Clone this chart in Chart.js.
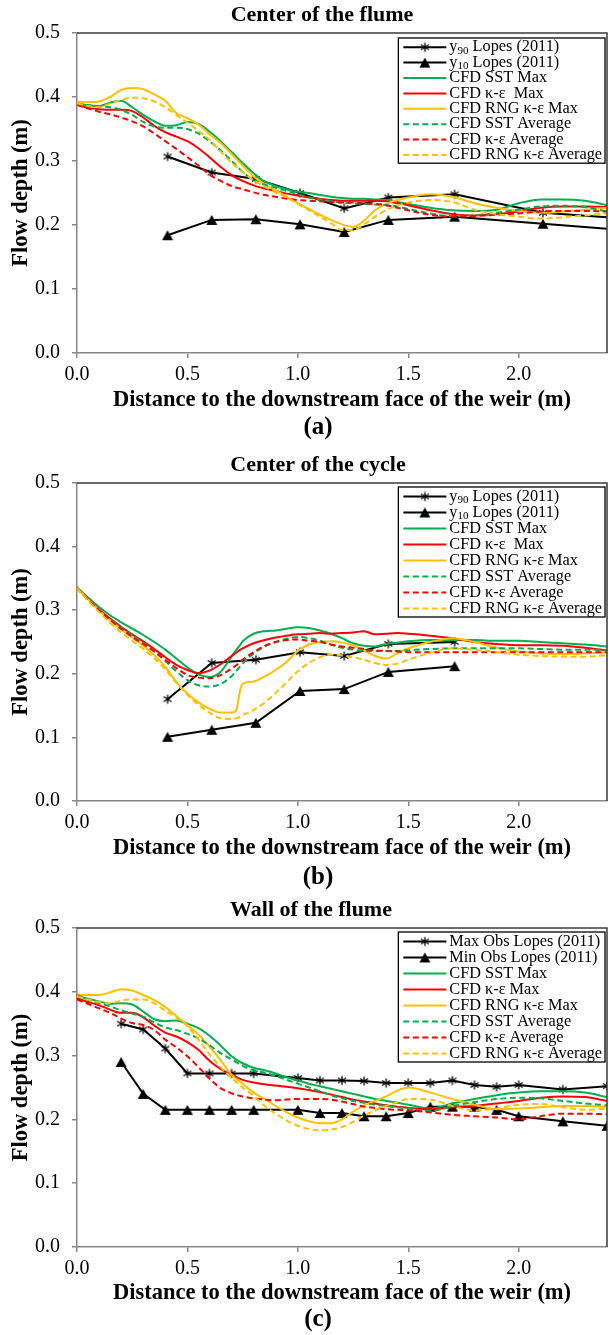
<!DOCTYPE html>
<html>
<head>
<meta charset="utf-8">
<script src="https://cdn.jsdelivr.net/npm/chart.js@4.4.0/dist/chart.umd.min.js"></script>
<style>
  html, body { margin: 0; padding: 0; background: #fff; }
  .panel { width: 609px; height: 445px; }
  canvas { display: block; }
</style>
</head>
<body>
<div class="panel"><canvas id="chartA" width="609" height="445"></canvas></div>
<div class="panel"><canvas id="chartB" width="609" height="445"></canvas></div>
<div class="panel"><canvas id="chartC" width="609" height="445"></canvas></div>
<script>
const SERIF = '"Liberation Serif", "Times New Roman", serif';
const GREEN = '#00b050', RED = '#ff0000', GOLD = '#ffc000';

// --- (a) centre of the flume ---
const xObsA = [0.41, 0.61, 0.81, 1.01, 1.21, 1.41, 1.71, 2.11, 2.71];
const y90A = [0.307, 0.282, 0.272, 0.250, 0.226, 0.243, 0.248, 0.219, 0.205];
const y10A = [0.184, 0.208, 0.209, 0.201, 0.189, 0.208, 0.213, 0.202, 0.186];

const xCfdA = [0, 0.05, 0.1, 0.15, 0.2, 0.25, 0.3, 0.35, 0.4, 0.45, 0.5, 0.55, 0.6, 0.65, 0.7, 0.75, 0.8, 0.85, 0.9, 0.95,
  1.0, 1.05, 1.1, 1.15, 1.2, 1.25, 1.3, 1.35, 1.4, 1.45, 1.5, 1.6, 1.7, 1.8, 1.9, 2.0, 2.1, 2.2, 2.3, 2.4];
const sstMaxA = [0.390, 0.387, 0.386, 0.391, 0.394, 0.384, 0.372, 0.362, 0.355, 0.356, 0.361, 0.358, 0.346, 0.331, 0.314, 0.297, 0.281, 0.268, 0.261, 0.256,
  0.252, 0.250, 0.247, 0.244, 0.242, 0.241, 0.241, 0.240, 0.239, 0.236, 0.233, 0.227, 0.223, 0.222, 0.224, 0.234, 0.240, 0.240, 0.238, 0.231];
const keMaxA = [0.388, 0.383, 0.381, 0.380, 0.380, 0.378, 0.368, 0.355, 0.345, 0.338, 0.331, 0.320, 0.306, 0.291, 0.278, 0.269, 0.262, 0.257, 0.253, 0.249,
  0.246, 0.243, 0.241, 0.239, 0.238, 0.238, 0.238, 0.238, 0.237, 0.234, 0.231, 0.223, 0.217, 0.215, 0.217, 0.221, 0.227, 0.229, 0.229, 0.228];
const rngMaxA = [0.392, 0.392, 0.393, 0.400, 0.411, 0.414, 0.412, 0.404, 0.394, 0.375, 0.367, 0.357, 0.342, 0.328, 0.311, 0.293, 0.276, 0.264, 0.254, 0.244,
  0.234, 0.225, 0.216, 0.208, 0.201, 0.197, 0.207, 0.223, 0.233, 0.239, 0.243, 0.248, 0.244, 0.234, 0.227, 0.222, 0.219, 0.221, 0.224, 0.227];
const sstAvgA = [0.390, 0.387, 0.385, 0.384, 0.380, 0.372, 0.361, 0.354, 0.352, 0.352, 0.350, 0.343, 0.331, 0.317, 0.300, 0.283, 0.270, 0.263, 0.258, 0.253,
  0.248, 0.243, 0.240, 0.237, 0.235, 0.234, 0.233, 0.232, 0.231, 0.229, 0.225, 0.218, 0.214, 0.215, 0.219, 0.224, 0.229, 0.230, 0.228, 0.221];
const keAvgA = [0.388, 0.382, 0.377, 0.373, 0.368, 0.362, 0.354, 0.343, 0.331, 0.319, 0.306, 0.293, 0.279, 0.269, 0.261, 0.256, 0.251, 0.247, 0.244, 0.241,
  0.239, 0.238, 0.237, 0.236, 0.235, 0.235, 0.234, 0.233, 0.231, 0.227, 0.223, 0.216, 0.213, 0.214, 0.216, 0.218, 0.221, 0.222, 0.222, 0.221];
const rngAvgA = [0.390, 0.386, 0.384, 0.390, 0.395, 0.399, 0.398, 0.393, 0.384, 0.372, 0.360, 0.347, 0.333, 0.315, 0.297, 0.283, 0.270, 0.260, 0.251, 0.243,
  0.233, 0.223, 0.213, 0.203, 0.192, 0.192, 0.201, 0.213, 0.223, 0.230, 0.235, 0.239, 0.236, 0.224, 0.217, 0.213, 0.210, 0.212, 0.215, 0.218];

// --- (b) centre of the cycle ---
const xObsB = [0.41, 0.61, 0.81, 1.01, 1.21, 1.41, 1.71];
const y90B = [0.160, 0.217, 0.222, 0.234, 0.228, 0.247, 0.250];
const y10B = [0.101, 0.112, 0.123, 0.173, 0.176, 0.203, 0.212];

const xCfdB = [0, 0.05, 0.1, 0.15, 0.2, 0.25, 0.3, 0.35, 0.4, 0.45, 0.5, 0.55, 0.6, 0.65, 0.7, 0.72, 0.74, 0.75, 0.8, 0.85,
  0.9, 0.95, 1.0, 1.05, 1.1, 1.15, 1.2, 1.25, 1.3, 1.35, 1.4, 1.45, 1.5, 1.6, 1.7, 1.8, 1.9, 2.0, 2.1, 2.2, 2.3, 2.4];
const sstMaxB = [0.336, 0.320, 0.305, 0.292, 0.281, 0.271, 0.261, 0.250, 0.238, 0.224, 0.210, 0.199, 0.195, 0.203, 0.227, 0.237, 0.246, 0.251, 0.263, 0.267,
  0.268, 0.271, 0.273, 0.272, 0.268, 0.263, 0.256, 0.248, 0.244, 0.243, 0.247, 0.249, 0.251, 0.253, 0.253, 0.253, 0.252, 0.252, 0.250, 0.248, 0.246, 0.243];
const keMaxB = [0.335, 0.318, 0.301, 0.287, 0.274, 0.262, 0.251, 0.239, 0.226, 0.214, 0.206, 0.201, 0.205, 0.215, 0.228, 0.233, 0.238, 0.240, 0.248, 0.253,
  0.257, 0.260, 0.262, 0.263, 0.264, 0.263, 0.264, 0.265, 0.267, 0.262, 0.263, 0.264, 0.263, 0.260, 0.256, 0.250, 0.247, 0.245, 0.245, 0.244, 0.241, 0.237];
const rngMaxB = [0.335, 0.317, 0.300, 0.284, 0.270, 0.257, 0.244, 0.229, 0.211, 0.187, 0.169, 0.155, 0.145, 0.139, 0.139, 0.142, 0.176, 0.184, 0.188, 0.196,
  0.206, 0.219, 0.236, 0.246, 0.250, 0.251, 0.249, 0.245, 0.237, 0.228, 0.224, 0.232, 0.240, 0.250, 0.256, 0.250, 0.241, 0.235, 0.232, 0.231, 0.232, 0.234];
const sstAvgB = [0.335, 0.316, 0.300, 0.286, 0.273, 0.261, 0.249, 0.235, 0.220, 0.204, 0.190, 0.182, 0.180, 0.184, 0.196, 0.204, 0.212, 0.216, 0.232, 0.243,
  0.250, 0.255, 0.258, 0.256, 0.252, 0.246, 0.241, 0.238, 0.236, 0.236, 0.236, 0.236, 0.237, 0.239, 0.240, 0.240, 0.240, 0.240, 0.239, 0.238, 0.238, 0.237];
const keAvgB = [0.335, 0.316, 0.300, 0.285, 0.271, 0.258, 0.247, 0.235, 0.222, 0.209, 0.198, 0.194, 0.193, 0.198, 0.208, 0.213, 0.219, 0.222, 0.234, 0.244,
  0.250, 0.253, 0.254, 0.252, 0.250, 0.246, 0.243, 0.241, 0.239, 0.237, 0.236, 0.235, 0.234, 0.234, 0.234, 0.234, 0.234, 0.234, 0.234, 0.234, 0.234, 0.234];
const rngAvgB = [0.335, 0.315, 0.297, 0.280, 0.265, 0.252, 0.239, 0.224, 0.207, 0.186, 0.167, 0.151, 0.139, 0.130, 0.129, 0.130, 0.133, 0.135, 0.143, 0.155,
  0.170, 0.187, 0.204, 0.217, 0.226, 0.230, 0.229, 0.226, 0.222, 0.217, 0.214, 0.216, 0.222, 0.233, 0.240, 0.238, 0.234, 0.230, 0.228, 0.227, 0.227, 0.229];

// --- (c) wall of the flume ---
const xObsC = [0.2, 0.3, 0.4, 0.5, 0.6, 0.7, 0.8, 1.0, 1.1, 1.2, 1.3, 1.4, 1.5, 1.6, 1.7, 1.8, 1.9, 2.0, 2.2, 2.4];
const maxObsC = [0.350, 0.341, 0.311, 0.272, 0.272, 0.272, 0.272, 0.265, 0.261, 0.261, 0.260, 0.257, 0.257, 0.257, 0.261, 0.254, 0.251, 0.254, 0.247, 0.252];
const minObsC = [0.290, 0.240, 0.215, 0.215, 0.215, 0.215, 0.215, 0.215, 0.210, 0.210, 0.205, 0.205, 0.210, 0.220, 0.220, 0.220, 0.215, 0.205, 0.197, 0.190];

const xCfdC = xCfdA;
const sstMaxC = [0.393, 0.389, 0.385, 0.381, 0.382, 0.380, 0.369, 0.357, 0.354, 0.355, 0.350, 0.343, 0.331, 0.316, 0.299, 0.288, 0.281, 0.277, 0.272, 0.266,
  0.261, 0.256, 0.252, 0.248, 0.244, 0.240, 0.236, 0.232, 0.229, 0.226, 0.223, 0.217, 0.225, 0.232, 0.238, 0.242, 0.244, 0.244, 0.242, 0.235];
const keMaxC = [0.390, 0.384, 0.379, 0.372, 0.367, 0.367, 0.360, 0.347, 0.336, 0.330, 0.321, 0.309, 0.292, 0.279, 0.270, 0.262, 0.258, 0.255, 0.253, 0.251,
  0.249, 0.246, 0.243, 0.239, 0.235, 0.231, 0.228, 0.225, 0.222, 0.220, 0.218, 0.216, 0.219, 0.221, 0.225, 0.229, 0.234, 0.236, 0.235, 0.229];
const rngMaxC = [0.395, 0.395, 0.395, 0.399, 0.404, 0.402, 0.395, 0.387, 0.376, 0.362, 0.348, 0.333, 0.314, 0.293, 0.270, 0.256, 0.242, 0.232, 0.221, 0.211,
  0.203, 0.197, 0.194, 0.194, 0.200, 0.212, 0.222, 0.229, 0.236, 0.245, 0.250, 0.242, 0.232, 0.223, 0.216, 0.217, 0.219, 0.221, 0.221, 0.220];
const sstAvgC = [0.395, 0.388, 0.382, 0.377, 0.371, 0.366, 0.361, 0.352, 0.344, 0.340, 0.334, 0.327, 0.316, 0.304, 0.294, 0.284, 0.277, 0.273, 0.268, 0.262,
  0.256, 0.250, 0.244, 0.238, 0.233, 0.229, 0.226, 0.223, 0.221, 0.219, 0.217, 0.213, 0.221, 0.227, 0.232, 0.234, 0.233, 0.229, 0.225, 0.222];
const keAvgC = [0.388, 0.381, 0.374, 0.367, 0.358, 0.351, 0.348, 0.340, 0.325, 0.313, 0.299, 0.282, 0.264, 0.249, 0.241, 0.236, 0.233, 0.231, 0.230, 0.231,
  0.232, 0.232, 0.232, 0.231, 0.228, 0.224, 0.220, 0.218, 0.216, 0.215, 0.214, 0.211, 0.207, 0.205, 0.203, 0.200, 0.205, 0.209, 0.209, 0.208];
const rngAvgC = [0.393, 0.388, 0.384, 0.382, 0.386, 0.388, 0.388, 0.382, 0.370, 0.360, 0.346, 0.325, 0.302, 0.282, 0.265, 0.250, 0.237, 0.221, 0.209, 0.198,
  0.190, 0.185, 0.183, 0.184, 0.188, 0.196, 0.206, 0.214, 0.221, 0.227, 0.232, 0.231, 0.221, 0.214, 0.217, 0.223, 0.224, 0.219, 0.215, 0.217];

const xTicksMax = 2.0;

// small bitmaps used as point styles (asterisk and filled triangle)
function makeMarker(kind) {
  const c = document.createElement('canvas');
  c.width = 12; c.height = 12;
  const g = c.getContext('2d');
  g.strokeStyle = '#000'; g.fillStyle = '#000'; g.lineWidth = 1.3;
  if (kind === 'star') {
    g.beginPath();
    g.moveTo(6, 1.5); g.lineTo(6, 10.5);
    g.moveTo(2, 3.5); g.lineTo(10, 8.5);
    g.moveTo(2, 8.5); g.lineTo(10, 3.5);
    g.stroke();
  } else {
    g.beginPath(); g.moveTo(6, 1); g.lineTo(11.5, 11); g.lineTo(0.5, 11); g.closePath(); g.fill();
  }
  return c;
}
const STAR = makeMarker('star');
const TRI = makeMarker('tri');

function pts(xs, ys) { return xs.map((x, i) => ({ x, y: ys[i] })); }

function observed(label, xs, ys, marker) {
  return {
    label, data: pts(xs, ys), borderColor: '#000', backgroundColor: '#000', borderWidth: 2,
    pointStyle: marker, pointRadius: 5, tension: 0, fill: false
  };
}
function profile(label, xs, ys, color, dashed) {
  return {
    label, data: pts(xs, ys), borderColor: color, backgroundColor: color, borderWidth: 2,
    borderDash: dashed ? [6, 3.5] : [], pointRadius: 0, cubicInterpolationMode: 'monotone', fill: false
  };
}

// top and right edges of the plot area
const plotFrame = {
  id: 'plotFrame',
  afterDatasetsDraw(chart) {
    const { ctx, chartArea: a } = chart;
    ctx.save();
    ctx.strokeStyle = '#3a3a3a'; ctx.lineWidth = 1.5;
    ctx.beginPath();
    ctx.moveTo(a.left, a.top); ctx.lineTo(a.right, a.top); ctx.lineTo(a.right, a.bottom);
    ctx.stroke();
    ctx.restore();
  }
};

// boxed legend in the top right corner, line sample + marker + label
const boxLegend = {
  id: 'boxLegend',
  afterDraw(chart, args, o) {
    const { ctx, chartArea: a } = chart;
    const sets = chart.data.datasets;
    const font = `16.3px ${SERIF}`, subFont = `11px ${SERIF}`;
    ctx.save();
    const parts = s => s.split(/_(\d+)/);
    const widthOf = s => parts(s).reduce((w, p, i) => {
      ctx.font = i % 2 ? subFont : font;
      return w + ctx.measureText(p).width;
    }, 0);
    const textW = Math.max(...sets.map(d => widthOf(d.label)));
    const w = 51 + textW + 3, h = sets.length * o.rowHeight + 2;
    const left = a.right - o.right - w, top = a.top + o.top;
    ctx.fillStyle = '#fff'; ctx.fillRect(left, top, w, h);
    ctx.strokeStyle = '#000'; ctx.lineWidth = 1.3; ctx.strokeRect(left, top, w, h);
    sets.forEach((d, i) => {
      const cy = top + 1.5 + o.rowHeight * (i + 0.5);
      const x0 = left + 5, x1 = left + 48;
      ctx.strokeStyle = d.borderColor; ctx.lineWidth = d.borderWidth;
      ctx.setLineDash(d.borderDash || []);
      ctx.beginPath(); ctx.moveTo(x0, cy); ctx.lineTo(x1, cy); ctx.stroke();
      ctx.setLineDash([]);
      if (d.pointStyle instanceof HTMLCanvasElement) {
        const m = d.pointStyle;
        ctx.drawImage(m, (x0 + x1) / 2 - m.width / 2, cy - m.height / 2);
      }
      ctx.fillStyle = '#000'; ctx.textBaseline = 'middle'; ctx.textAlign = 'left';
      let x = left + 51;
      parts(d.label).forEach((p, k) => {
        ctx.font = k % 2 ? subFont : font;
        ctx.fillText(p, x, k % 2 ? cy + 4 : cy);
        x += ctx.measureText(p).width;
      });
    });
    ctx.restore();
  }
};

// panel heading and the (a)/(b)/(c) tag
const panelText = {
  id: 'panelText',
  afterDraw(chart, args, o) {
    const ctx = chart.ctx;
    ctx.save();
    ctx.fillStyle = '#000'; ctx.textAlign = 'center'; ctx.textBaseline = 'middle';
    ctx.font = `bold 22px ${SERIF}`;
    ctx.fillText(o.title, o.titleX, o.titleY);
    ctx.font = `bold 25px ${SERIF}`;
    ctx.fillText(o.tag, o.tagX, o.tagY);
    ctx.restore();
  }
};

function drawPanel(id, datasets, cfg) {
  const axisGrey = '#868686';
  datasets.forEach((d, i) => { d.order = datasets.length - i; });
  return new Chart(document.getElementById(id), {
    type: 'line',
    data: { datasets },
    plugins: [plotFrame, boxLegend, panelText],
    options: {
      responsive: false, animation: false, events: [],
      layout: { autoPadding: false, padding: { top: cfg.plotTop, right: 2, left: 0, bottom: 0 } },
      font: { family: SERIF },
      scales: {
        x: {
          type: 'linear', min: 0, max: 2.4,
          afterBuildTicks: s => { s.ticks = s.ticks.filter(t => t.value <= xTicksMax + 1e-9); },
          afterFit: s => { s.height = 445 - cfg.plotBottom; s.paddingLeft = 0; s.paddingRight = 0; },
          ticks: { stepSize: 0.5, callback: v => v.toFixed(1), color: '#000', padding: 5, maxRotation: 0,
            font: { family: SERIF, size: 20 } },
          grid: { drawOnChartArea: false, drawTicks: true, tickLength: 5, color: axisGrey, lineWidth: 1.5 },
          border: { color: axisGrey, width: 1.5 },
          title: { display: true, text: 'Distance to the downstream face of the weir (m)', color: '#000',
            font: { family: SERIF, size: 22.5, weight: 'bold' }, padding: { top: 0, bottom: cfg.xTitlePad } }
        },
        y: {
          min: 0, max: 0.5,
          afterFit: s => { s.width = 77; },
          ticks: { stepSize: 0.1, callback: v => v.toFixed(1), color: '#000', padding: 12,
            font: { family: SERIF, size: 20 } },
          grid: { drawOnChartArea: false, drawTicks: true, tickLength: 5, color: axisGrey, lineWidth: 1.5 },
          border: { color: axisGrey, width: 1.5 },
          title: { display: true, text: 'Flow depth (m)', color: '#000',
            font: { family: SERIF, size: 22.5, weight: 'bold' }, padding: { top: 7.5, bottom: 0 } }
        }
      },
      plugins: {
        legend: { display: false },
        tooltip: { enabled: false },
        boxLegend: { right: 2, top: cfg.legendTop, rowHeight: cfg.rowHeight },
        panelText: { title: cfg.title, titleX: cfg.titleX, titleY: cfg.titleY, tag: cfg.tag, tagX: 318, tagY: cfg.tagY }
      }
    }
  });
}

drawPanel('chartA', [
  observed('y_90 Lopes (2011)', xObsA, y90A, STAR),
  observed('y_10 Lopes (2011)', xObsA, y10A, TRI),
  profile('CFD SST Max', xCfdA, sstMaxA, GREEN, false),
  profile('CFD κ-ε  Max', xCfdA, keMaxA, RED, false),
  profile('CFD RNG κ-ε Max', xCfdA, rngMaxA, GOLD, false),
  profile('CFD SST Average', xCfdA, sstAvgA, GREEN, true),
  profile('CFD κ-ε Average', xCfdA, keAvgA, RED, true),
  profile('CFD RNG κ-ε Average', xCfdA, rngAvgA, GOLD, true)
], { plotTop: 33, plotBottom: 353, xTitlePad: 31.5, legendTop: 5, rowHeight: 15.4,
     title: 'Center of the flume', titleX: 322, titleY: 15, tag: '(a)', tagY: 428 });

drawPanel('chartB', [
  observed('y_90 Lopes (2011)', xObsB, y90B, STAR),
  observed('y_10 Lopes (2011)', xObsB, y10B, TRI),
  profile('CFD SST Max', xCfdB, sstMaxB, GREEN, false),
  profile('CFD κ-ε  Max', xCfdB, keMaxB, RED, false),
  profile('CFD RNG κ-ε Max', xCfdB, rngMaxB, GOLD, false),
  profile('CFD SST Average', xCfdB, sstAvgB, GREEN, true),
  profile('CFD κ-ε Average', xCfdB, keAvgB, RED, true),
  profile('CFD RNG κ-ε Average', xCfdB, rngAvgB, GOLD, true)
], { plotTop: 38, plotBottom: 356, xTitlePad: 28.5, legendTop: 4, rowHeight: 16,
     title: 'Center of the cycle', titleX: 318, titleY: 20, tag: '(b)', tagY: 433 });

drawPanel('chartC', [
  observed('Max Obs Lopes (2011)', xObsC, maxObsC, STAR),
  observed('Min Obs Lopes (2011)', xObsC, minObsC, TRI),
  profile('CFD SST Max', xCfdC, sstMaxC, GREEN, false),
  profile('CFD κ-ε Max', xCfdC, keMaxC, RED, false),
  profile('CFD RNG κ-ε Max', xCfdC, rngMaxC, GOLD, false),
  profile('CFD SST Average', xCfdC, sstAvgC, GREEN, true),
  profile('CFD κ-ε Average', xCfdC, keAvgC, RED, true),
  profile('CFD RNG κ-ε Average', xCfdC, rngAvgC, GOLD, true)
], { plotTop: 38, plotBottom: 357, xTitlePad: 28.5, legendTop: 4, rowHeight: 16,
     title: 'Wall of the flume', titleX: 311, titleY: 20, tag: '(c)', tagY: 430 });
</script>
</body>
</html>
